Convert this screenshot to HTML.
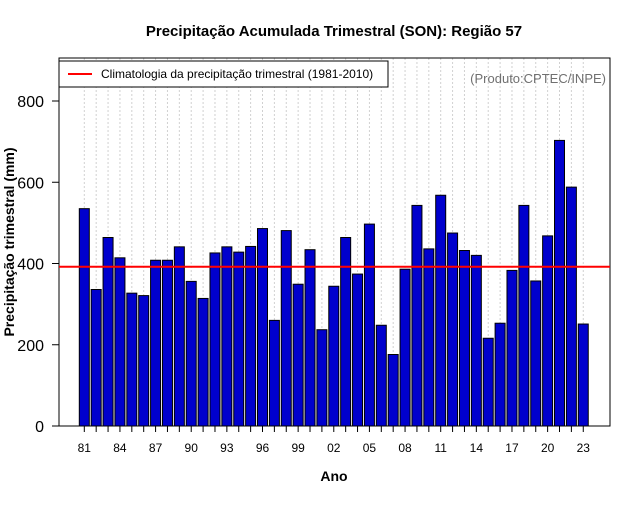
<!DOCTYPE html>
<html><head><meta charset="utf-8">
<style>
body{margin:0;background:#fff;font-family:"Liberation Sans",sans-serif;}
</style></head>
<body>
<svg id="chart" width="640" height="500" xmlns="http://www.w3.org/2000/svg" font-family="Liberation Sans, sans-serif">
<text x="334" y="36" text-anchor="middle" font-size="15" font-weight="bold">Precipitação Acumulada Trimestral (SON): Região 57</text>
<g id="grid"></g>
<g id="bars"></g>
<rect x="59" y="58" width="551" height="368" fill="none" stroke="#000" stroke-width="1"/>
<g id="yaxis"></g>
<g id="xaxis"></g>
<line id="clim" x1="59" x2="610" stroke="#ff0000" stroke-width="2"/>
<g>
<rect x="59" y="61" width="329" height="26" fill="#fff" stroke="#000" stroke-width="1"/>
<line x1="68" x2="92" y1="74" y2="74" stroke="#ff0000" stroke-width="2"/>
<text x="101" y="78" font-size="12">Climatologia da precipitação trimestral (1981-2010)</text>
</g>
<text x="606" y="83" text-anchor="end" font-size="13" fill="#707070">(Produto:CPTEC/INPE)</text>
<text transform="translate(14,242) rotate(-90)" text-anchor="middle" font-size="14" font-weight="bold">Precipitação trimestral (mm)</text>
<text x="334" y="481" text-anchor="middle" font-size="14" font-weight="bold">Ano</text>
</svg>
<script>
const years=[1981,1982,1983,1984,1985,1986,1987,1988,1989,1990,1991,1992,1993,1994,1995,1996,1997,1998,1999,2000,2001,2002,2003,2004,2005,2006,2007,2008,2009,2010,2011,2012,2013,2014,2015,2016,2017,2018,2019,2020,2021,2022,2023];
const precip=[535,336,464,414,327,321,408,408,441,356,314,426,441,428,442,486,260,481,349,434,237,344,464,374,497,248,176,386,543,436,568,475,432,420,216,253,383,543,357,468,703,588,251];
const climatology=392;
const yTicks=[0,200,400,600,800];
const xTickLabels=["81","84","87","90","93","96","99","02","05","08","11","14","17","20","23"];
const NS="http://www.w3.org/2000/svg";
function yScale(v){return 426-v*0.40625;}
function xScale(i){return 84.3+i*11.88;}
function mk(t,a){const e=document.createElementNS(NS,t);for(const k in a)e.setAttribute(k,a[k]);return e;}
const grid=document.getElementById('grid'),bars=document.getElementById('bars'),xa=document.getElementById('xaxis'),ya=document.getElementById('yaxis');
years.forEach((y,i)=>{
  const cx=xScale(i);
  const g=mk('line',{x1:cx,x2:cx,y1:58,y2:426,stroke:'#d0d0d0','stroke-dasharray':'2,2'});
  
  
  grid.appendChild(g);
  const top=yScale(precip[i]);
  const r=mk('rect',{x:cx-5,y:top,width:10,height:426-top,fill:'#0000cd',stroke:'#000','stroke-width':1});
  
  
  bars.appendChild(r);
  const t=mk('line',{x1:cx,x2:cx,y1:426,y2:432,stroke:'#000'});
  
  
  xa.appendChild(t);
});
xTickLabels.forEach((l,j)=>{
  const tx=mk('text',{x:xScale(j*3),y:452,'text-anchor':'middle','font-size':12});
  tx.textContent=l;
  
  
  xa.appendChild(tx);
});
yTicks.forEach(v=>{
  const y=yScale(v);
  const t=mk('line',{x1:52,x2:59,y1:y,y2:y,stroke:'#000'});
  
  
  ya.appendChild(t);
  const tx=mk('text',{x:44,y:y+6,'text-anchor':'end','font-size':16});
  tx.textContent=v;
  
  
  ya.appendChild(tx);
});
const c=document.getElementById('clim');
c.setAttribute('y1',yScale(climatology));c.setAttribute('y2',yScale(climatology));
</script>
</body></html>
